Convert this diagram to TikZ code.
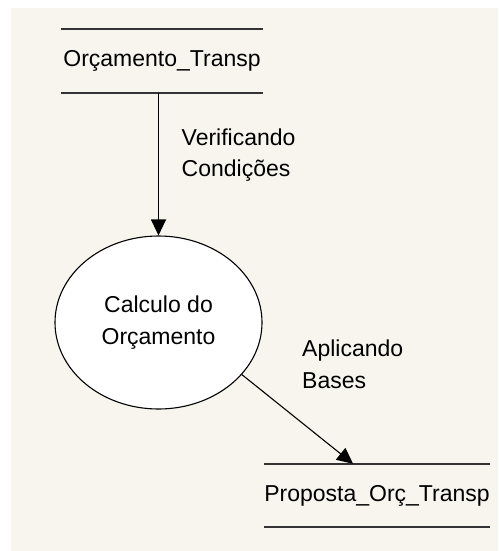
\documentclass[tikz,border=0pt]{standalone}
\usepackage{fontspec}
\setmainfont{Liberation Sans}
\usetikzlibrary{arrows.meta,shapes.geometric}
\definecolor{bgcream}{HTML}{F8F5EE}
\definecolor{linegray}{HTML}{333333}
\begin{document}
\begin{tikzpicture}[x=1pt,y=-1pt,
  every node/.style={font=\fontsize{23}{31.5}\selectfont, inner sep=0pt, text=black},
  store/.style={minimum width=202pt, minimum height=63pt, text height=16.5pt, text depth=4.8pt},
  storeline/.style={draw=linegray, line width=1.6pt},
  process/.style={ellipse, draw=black, line width=1.1pt, fill=white, minimum width=207pt, minimum height=173pt, align=center},
  flow/.style={draw=black, line width=1.1pt, -{Triangle[length=16pt,width=15pt]}},
  flowlabel/.style={anchor=base west, align=left}
]
\useasboundingbox (0,0) rectangle (498,551);
\fill[white] (0,0) rectangle (498,551);
\fill[bgcream] (11,8) rectangle (498,551);

% data stores
\node[store] (s1) at (162,61) {Orçamento\_Transp};
\draw[storeline] (s1.north west) -- (s1.north east);
\draw[storeline] (s1.south west) -- (s1.south east);

\node[store] (s2) at (377,495.5) {Proposta\_Orç\_Transp};
\draw[storeline] (s2.north west) -- (s2.north east);
\draw[storeline] (s2.south west) -- (s2.south east);

% process
\node[process] (p) at (158.5,322.5) {Calculo do\\Orçamento};

% flows
\draw[flow] (s1.south -| p.north) -- (p.north);
\draw[flow] (p.-32) -- ([xshift=89pt]s2.north west);

% flow labels (anchored at the baseline of the last line)
\node[flowlabel] (l1) at (181.5,176.5) {Verificando\\Condições};
\node[flowlabel] (l2) at (302,388) {Aplicando\\Bases};
\end{tikzpicture}
\end{document}
